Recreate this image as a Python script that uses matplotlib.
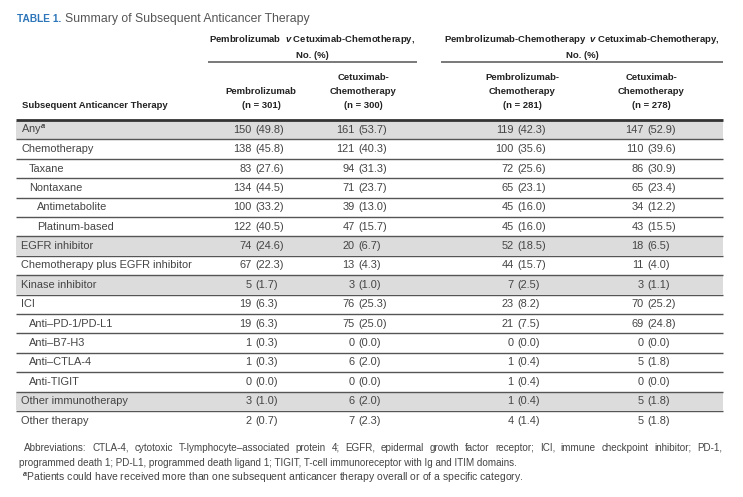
import matplotlib
matplotlib.use("Agg")
import matplotlib.pyplot as plt

plt.rcParams['font.family'] = ['Liberation Sans', 'DejaVu Sans']
plt.rcParams['mathtext.fontset'] = 'custom'
plt.rcParams['mathtext.rm'] = 'Liberation Sans'
plt.rcParams['mathtext.it'] = 'Liberation Sans:italic:bold'
plt.rcParams['mathtext.bf'] = 'Liberation Sans:bold'

therapies = ["Any$^{a}$", "Chemotherapy", "Taxane", "Nontaxane", "Antimetabolite",
             "Platinum-based", "EGFR inhibitor", "Chemotherapy plus EGFR inhibitor",
             "Kinase inhibitor", "ICI", "Anti\u2013PD-1/PD-L1", "Anti\u2013B7-H3",
             "Anti\u2013CTLA-4", "Anti-TIGIT", "Other immunotherapy", "Other therapy"]
indent = [0, 0, 1, 1, 2, 2, 0, 0, 0, 0, 1, 1, 1, 1, 0, 0]
shaded = [True, False, False, False, False, False, True, False,
          True, False, False, False, False, False, True, False]

pembro_n = [150, 138, 83, 134, 100, 122, 74, 67, 5, 19, 19, 1, 1, 0, 3, 2]
pembro_pct = [49.8, 45.8, 27.6, 44.5, 33.2, 40.5, 24.6, 22.3, 1.7, 6.3, 6.3, 0.3, 0.3, 0.0, 1.0, 0.7]
cetux1_n = [161, 121, 94, 71, 39, 47, 20, 13, 3, 76, 75, 0, 6, 0, 6, 7]
cetux1_pct = [53.7, 40.3, 31.3, 23.7, 13.0, 15.7, 6.7, 4.3, 1.0, 25.3, 25.0, 0.0, 2.0, 0.0, 2.0, 2.3]
pchemo_n = [119, 100, 72, 65, 45, 45, 52, 44, 7, 23, 21, 0, 1, 1, 1, 4]
pchemo_pct = [42.3, 35.6, 25.6, 23.1, 16.0, 16.0, 18.5, 15.7, 2.5, 8.2, 7.5, 0.0, 0.4, 0.4, 0.4, 1.4]
cetux2_n = [147, 110, 86, 65, 34, 43, 18, 11, 3, 70, 69, 0, 5, 0, 5, 5]
cetux2_pct = [52.9, 39.6, 30.9, 23.4, 12.2, 15.5, 6.5, 4.0, 1.1, 25.2, 24.8, 0.0, 1.8, 0.0, 1.8, 1.8]

col_heads = [["Pembrolizumab", "(n = 301)"], ["Cetuximab-", "Chemotherapy", "(n = 300)"],
             ["Pembrolizumab-", "Chemotherapy", "(n = 281)"], ["Cetuximab-", "Chemotherapy", "(n = 278)"]]
group_heads = [["Pembrolizumab  $\\mathit{v}$ Cetuximab-Chemotherapy,", "No. (%)"],
               ["Pembrolizumab-Chemotherapy  $\\mathit{v}$ Cetuximab-Chemotherapy,", "No. (%)"]]

abbrev1 = ("Abbreviations: CTLA-4, cytotoxic T-lymphocyte\u2013associated protein 4; EGFR, epidermal growth factor receptor; "
           "ICI, immune checkpoint inhibitor; PD-1,")
abbrev2 = "programmed death 1; PD-L1, programmed death ligand 1; TIGIT, T-cell immunoreceptor with Ig and ITIM domains."
footnote = "$^{a}$Patients could have received more than one subsequent anticancer therapy overall or of a specific category."

W, H = 743, 497
fig = plt.figure(figsize=(W / 100, H / 100), dpi=100)
ax = fig.add_axes([0, 0, 1, 1])
ax.set_xlim(0, W)
ax.set_ylim(H, 0)
ax.axis('off')

blue = '#2c76b9'
body = '#444444'
head = '#222222'
line_c = '#555555'
left, right = 16, 723
top = 120
pitch = 19.4
fs_body = 7.9
fs_head = 6.8
fs_note = 7.1

# title
ax.text(17, 19, "TABLE 1.", color=blue, fontsize=7.3, fontweight='bold', va='center')
ax.text(65, 19, "Summary of Subsequent Anticancer Therapy", color='#555555', fontsize=8.8, va='center')

# group headers
groups = [(208, 417), (441, 723)]
for (x0, x1), lines in zip(groups, group_heads):
    for k, txt in enumerate(lines):
        ax.text((x0 + x1) / 2, 40 + 15 * k, txt, ha='center', va='center', fontsize=fs_head,
                fontweight='bold', color=head)
    ax.plot([x0, x1], [62, 62], color=line_c, lw=1.1, solid_capstyle='butt')

col_center = [261, 363, 522, 651]
paren_x = [255, 358, 517, 647]
for cx, lines in zip(col_center, col_heads):
    n = len(lines)
    for k, txt in enumerate(lines):
        ax.text(cx, 106 - 14.5 * (n - 1 - k), txt, ha='center', va='center', fontsize=fs_head,
                fontweight='bold', color=head)
ax.text(22, 106, "Subsequent Anticancer Therapy", ha='left', va='center', fontsize=fs_head,
        fontweight='bold', color=head)
ax.plot([left, right], [119.5, 119.5], color='#333333', lw=2.0, solid_capstyle='butt')

cols = [(pembro_n, pembro_pct), (cetux1_n, cetux1_pct), (pchemo_n, pchemo_pct), (cetux2_n, cetux2_pct)]
for i, name in enumerate(therapies):
    y0 = top + i * pitch
    yc = y0 + pitch / 2
    if shaded[i]:
        ax.add_patch(plt.Rectangle((left, y0 + 0.5), right - left, pitch - 1,
                                   facecolor='#dcdcdc', edgecolor='none'))
    ax.text(21 + 8 * indent[i], yc, name, ha='left', va='center', fontsize=fs_body, color=body)
    for (ns, ps), px in zip(cols, paren_x):
        ax.text(px - 3.5, yc, str(ns[i]), ha='right', va='center', fontsize=fs_body, color=body)
        ax.text(px, yc, "(%.1f)" % ps[i], ha='left', va='center', fontsize=fs_body, color=body)
    if i < len(therapies) - 1:
        ax.plot([left, right], [y0 + pitch, y0 + pitch], color=line_c, lw=1.0,
                solid_capstyle='butt')

# first abbreviation line is justified to the table width
renderer = fig.canvas.get_renderer()
words = abbrev1.split(' ')
objs = [ax.text(0, 448, w, ha='left', va='center', fontsize=fs_note, color=body) for w in words]
widths = [o.get_window_extent(renderer).width for o in objs]
x_start, x_end = 24, 722
gap = (x_end - x_start - sum(widths)) / (len(words) - 1)
x = x_start
for o, w in zip(objs, widths):
    o.set_x(x)
    x += w + gap

ax.text(19, 463, abbrev2, ha='left', va='center', fontsize=fs_note, color=body)
ax.text(22, 478, footnote, ha='left', va='center', fontsize=7.5, color=body)

fig.savefig("out.png", dpi=100)
